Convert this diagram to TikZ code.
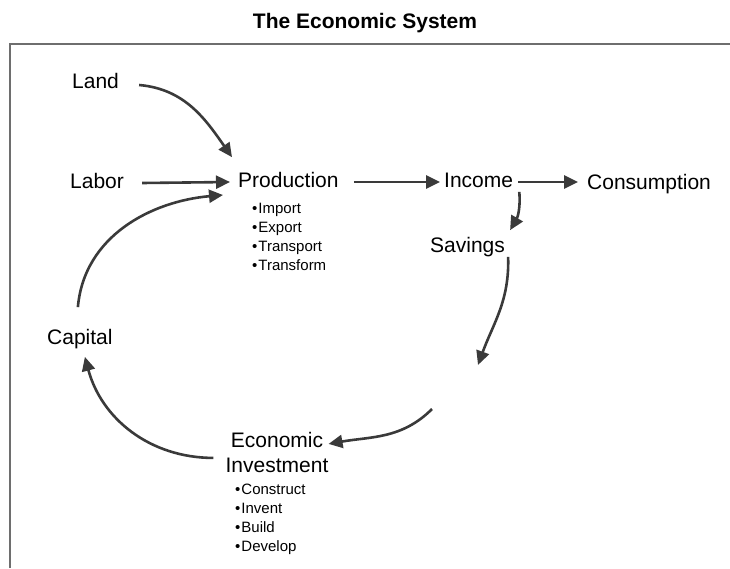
\documentclass[tikz,border=0pt]{standalone}
\usepackage{fontspec}
\setmainfont{Liberation Sans}
\usetikzlibrary{arrows.meta,positioning}
\definecolor{flowgray}{HTML}{3A3A3A}
\definecolor{framegray}{HTML}{6E6E6E}
\tikzset{
  >={Triangle[length=14pt,width=13pt]},
  % etiketter
  lbl/.style={inner sep=0pt,anchor=west,text height=15.3pt,text depth=0pt,
              font=\fontsize{21}{25}\selectfont},
  sub/.style={inner sep=0pt,anchor=north west,align=left,
              font=\fontsize{15}{19}\selectfont},
  % pilar
  flow/.style={->,draw=flowgray,line width=2.6pt},
  frame/.style={draw=framegray,line width=1.5pt},
}

\begin{document}
\begin{tikzpicture}[x=1pt,y=-1pt]
  \useasboundingbox (0,0) rectangle (730,568);
  \node[inner sep=0pt,font=\bfseries\fontsize{21}{25}\selectfont] (title) at (365,23) {The Economic System};
  \draw[frame] (10,568) -- (10,44) -- (730,44);
  % noder
  \node[lbl] (land) at (72,81) {Land};
  \node[lbl] (labor) at (70,181) {Labor};
  \node[lbl] (prod) at (238,180) {Production};
  \node[lbl] (income) at (444,180) {Income};
  \node[lbl] (cons) at (587,182) {Consumption};
  \node[lbl] (sav) at (430,245) {Savings};
  \node[lbl] (capital) at (47,337) {Capital};
  \node[inner sep=0pt,anchor=north,align=center,font=\fontsize{21}{25}\selectfont] (inv) at (277,432.5) {Economic\\Investment};
  \node[sub] (prodlist) at (252,203) {\textbullet\hspace{1pt}Import\\\textbullet\hspace{1pt}Export\\\textbullet\hspace{1pt}Transport\\\textbullet\hspace{1pt}Transform};
  \node[sub] (invlist) at (235,484) {\textbullet\hspace{1pt}Construct\\\textbullet\hspace{1pt}Invent\\\textbullet\hspace{1pt}Build\\\textbullet\hspace{1pt}Develop};
  \coordinate (savend) at (478,365);
  \coordinate (invstart) at (432,409);
  % pilar
  \draw[flow] ([xshift=20pt,yshift=-4pt]land.east) to[out=-5,in=125] ([xshift=-6pt,yshift=15pt]prod.north west);
  \draw[flow] ([xshift=18pt,yshift=-2pt]labor.east) -- ([xshift=-8pt,yshift=-2pt]prod.west);
  \draw[flow] ([xshift=-2pt,yshift=22pt]capital.north) to[out=85,in=185] ([xshift=-15pt,yshift=-15pt]prod.west);
  \draw[flow] ([xshift=15pt,yshift=-2pt]prod.east) -- ([xshift=-4pt,yshift=-2pt]income.west);
  \draw[flow] ([xshift=5pt,yshift=-2pt]income.east) -- ([xshift=-9pt]cons.west);
  \draw[flow] ([xshift=6pt,yshift=-4pt]income.south east) to[out=-85,in=60] ([xshift=5pt,yshift=7pt]sav.north east);
  \draw[flow] ([xshift=3pt,yshift=-4pt]sav.south east) to[out=-88,in=70] (savend);
  \draw[flow] (invstart) to[out=-135,in=10] ([yshift=9pt]inv.east);
  \draw[flow] ([xshift=-12pt,yshift=-5pt]inv.west) to[out=180,in=-75] ([xshift=5pt,yshift=-12pt]capital.south);
\end{tikzpicture}
\end{document}
